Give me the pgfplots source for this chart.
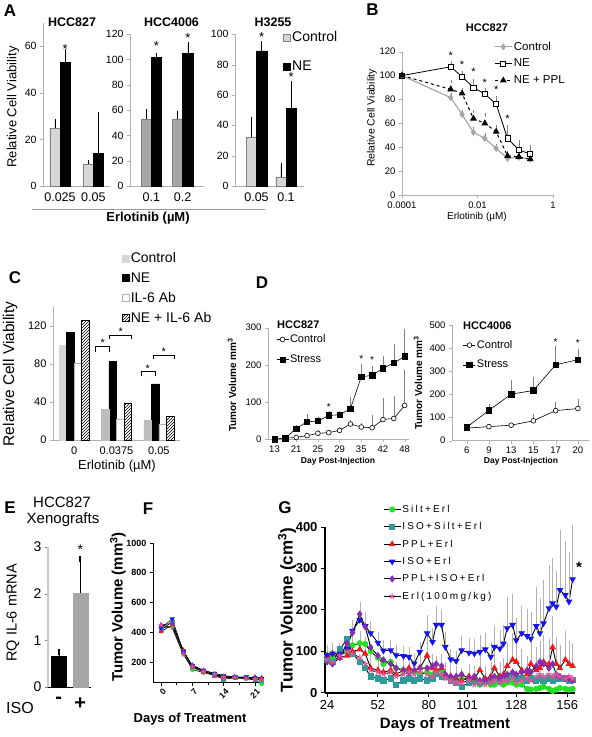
\documentclass[border=0pt]{standalone}
\usepackage{pgfplots}
\pgfplotsset{compat=1.18}
\usepackage{pgfplotstable}
\usepackage{fontspec}
\setmainfont{Liberation Sans}
\newfontfamily\spaced[LetterSpace=22]{Liberation Sans}
\usetikzlibrary{patterns}
\newcommand{\fs}[1]{\fontsize{#1}{#1}\selectfont}
\definecolor{ctrlL}{HTML}{D6D6D6}
\definecolor{ctrlC}{HTML}{BDBDBD}
\definecolor{ctrlM}{HTML}{A6A6A6}
\definecolor{axg}{HTML}{B0B0B0}
\definecolor{cgreen}{HTML}{22E022}
\definecolor{cteal}{HTML}{2E9A9A}
\definecolor{cred}{HTML}{F01818}
\definecolor{cblue}{HTML}{1414F0}
\definecolor{cpurple}{HTML}{8A2BB0}
\definecolor{cpink}{HTML}{F0509A}

\pgfplotstableread{
d   gr  te  re  bl  pu  pk  ebl ere
24  90  80  90  91  75  80  15  20
27  85  75  95  95  70  75  15  20
31  95  105 85  95  85  90  20  25
35  100 130 90  107 120 100 25  30
38  115 95  100 150 145 95  20  40
42  120 75  105 176 190 85  39  40
45  118 60  95  161 160 70  30  35
48  100 40  60  144 110 55  25  30
52  85  35  55  121 90  50  20  30
55  70  30  50  102 80  45  20  30
59  75  35  55  103 70  50  20  25
62  60  20  45  91  60  40  20  25
66  55  30  55  89  55  45  20  25
69  55  35  60  87  50  50  20  30
72  50  30  55  71  55  45  20  25
75  45  35  60  99  60  50  20  30
79  50  30  90  144 60  45  40  40
82  45  35  60  123 65  40  30  30
84  50  45  55  164 70  50  40  30
87  55  40  60  164 65  45  30  30
89  40  40  45  111 45  35  30  25
92  35  30  40  81  40  30  20  25
95  30  25  35  77  40  25  20  25
98  35  15  30  103 45  25  30  25
102 30  25  40  97  35  30  30  25
105 25  30  35  95  40  20  30  25
108 20  25  55  99  30  25  35  40
111 25  30  35  105 30  20  35  25
114 20  30  40  87  35  25  30  30
116 20  35  60  111 40  30  45  40
119 25  30  40  107 35  25  40  30
121 20  35  45  119 40  30  40  35
123 25  35  65  156 45  30  70  50
126 25  40  80  164 50  35  70  60
128 20  35  75  127 45  25  50  50
131 20  35  55  144 50  30  60  45
134 10  30  45  137 55  35  60  40
136 8   35  70  131 50  30  60  60
139 10  30  55  161 65  40  90  50
141 12  35  60  144 75  45  80  60
143 15  30  75  168 70  40  100 60
146 10  35  70  204 60  45  100 55
148 5   30  110 216 70  40  105 70
150 8   35  70  208 45  45  80  60
152 12  35  60  248 40  40  140 50
155 10  35  80  236 35  35  125 65
157 8   30  70  220 35  40  115 50
159 10  32  65  274 30  35  125 50
}\Gdata

\pgfplotstableread{
d    gr  te  re  bl  pu  pk
0    430 420 405 430 450 450
2.5  440 470 450 490 460 430
5    255 270 280 270 265 250
7    150 170 170 175 180 165
9.5  130 140 135 145 145 135
12   110 110 115 125 120 120
14   95  85  100 110 105 100
16.5 95  95  100 100 100 95
19   90  95  95  100 95  90
21   80  85  100 95  90  85
22.5 55  80  95  90  85  80
}\Fdata

\tikzset{stx/.style={font=\fs{13}, inner sep=0pt}}
\pgfplotsset{
  every axis/.append style={scale only axis, anchor=south west, clip=false,
    /pgf/number format/assume math mode=true, /pgf/number format/1000 sep={}},
  xl/.style={axis x line*=bottom, axis y line*=left, tick align=outside,
    axis line style={draw=axg}, tick style={draw=axg}, major tick length=3pt},
  barA/.style={xl, ybar, bar width=10.3pt, xtick style={draw=none},
    yticklabel style={font=\fs{10.5}}, xticklabel style={font=\fs{12.5}}},
  ebar/.style={error bars/.cd, y dir=plus, y explicit,
    error bar style={black, line width=0.4pt}, error mark options={black, mark size=2pt, line width=0.4pt}},
  gbar/.style={error bars/.cd, y dir=plus, y explicit,
    error bar style={gray, line width=0.4pt}, error mark options={gray, mark size=1.8pt, line width=0.4pt}},
  lbar/.style={error bars/.cd, y dir=plus, y explicit,
    error bar style={black!30, line width=0.5pt}, error mark options={black!30, mark size=2pt, line width=0.5pt}},
  sq/.style={legend image code/.code={\draw[##1] (0pt,-3.5pt) rectangle (7pt,3.5pt);}},
  shortl/.style={legend image code/.code={\draw[mark repeat=2,mark phase=2,##1] plot coordinates {(0pt,0pt) (6pt,0pt) (12pt,0pt)};}},
}

\begin{document}
\begin{tikzpicture}
\useasboundingbox (0pt,0pt) rectangle (592pt,737pt);

% ================= A1
\begin{axis}[barA, at={(43pt,551pt)}, width=67pt, height=163pt,
  xmin=-0.51, xmax=1.5, ymin=0, ymax=70, ytick={0,20,40,60}, xtick={0,1}, xticklabels={0.025,0.05}]
\addplot[fill=ctrlL, draw=gray, bar shift=-5.15pt, ebar] coordinates {(0,25) +- (0,3) (1,9.5) +- (0,0.6)};
\addplot[fill=black, draw=black, bar shift=5.15pt, ebar] coordinates {(0,53) +- (0,5) (1,14) +- (0,17)};
\node[stx] at ([xshift=5.15pt]axis cs:0,59) {*};
\end{axis}

% ================= A2
\begin{axis}[barA, at={(130pt,551pt)}, width=74pt, height=151.7pt,
  xmin=-0.68, xmax=1.68, ymin=0, ymax=120, ytick={0,20,...,120}, xtick={0,1}, xticklabels={0.1,0.2}]
\addplot[fill=ctrlM, draw=gray, bar shift=-5.15pt, ebar] coordinates {(0,53) +- (0,6) (1,53) +- (0,5)};
\addplot[fill=black, draw=black, bar shift=5.15pt, ebar] coordinates {(0,102) +- (0,2) (1,105) +- (0,7)};
\node[stx] at ([xshift=5.15pt]axis cs:0,111) {*};
\node[stx] at ([xshift=5.15pt]axis cs:1,117) {*};
\end{axis}

% ================= A3
\begin{axis}[barA, sq, at={(235pt,551pt)}, width=68.7pt, height=151.7pt,
  xmin=-0.73, xmax=1.6, ymin=0, ymax=100, ytick={0,20,...,100}, xtick={0,1}, xticklabels={0.05,0.1},
  legend style={draw=none, fill=none, at={(0.70,1.03)}, anchor=north west, font=\fs{14}, row sep=15pt, inner sep=0pt, nodes={inner sep=1.5pt}},
  legend cell align=left]
\addplot[fill=ctrlL, draw=gray, bar shift=-5.15pt, ebar] coordinates {(0,32) +- (0,12) (1,6) +- (0,8)};
\addplot[fill=black, draw=black, bar shift=5.15pt, ebar] coordinates {(0,89) +- (0,5) (1,51) +- (0,17)};
\node[stx] at ([xshift=5.15pt]axis cs:0,98) {*};
\node[stx] at ([xshift=5.15pt]axis cs:1,72) {*};
\legend{Control,NE}
\end{axis}

% ================= B
\begin{axis}[xl, xmode=log, at={(402pt,542pt)}, width=151pt, height=143.3pt,
  xmin=1e-4, xmax=1, ymin=0, ymax=120, ytick={0,20,...,120},
  xtick={1e-4,1e-2,1}, xticklabels={0.0001,0.01,1}, minor xtick={},
  ticklabel style={font=\fs{9.5}},
  legend style={draw=none, fill=none, at={(0.609,1.08)}, anchor=north west, font=\fs{11.5}, row sep=4.3pt, inner sep=0pt, nodes={inner sep=1.5pt}},
  legend cell align=left]
\addplot[color=ctrlM, line width=1.2pt, mark=diamond*, mark size=2.6pt, mark options={fill=ctrlM, draw=ctrlM}, gbar] coordinates {
 (0.0001,100) +- (0,1) (0.001953,81.5) +- (0,2) (0.003906,67.5) +- (0,2) (0.0078125,52.5) +- (0,3)
 (0.015625,47.4) +- (0,3) (0.03125,39) +- (0,2) (0.0625,30.7) +- (0,2) (0.125,31.5) +- (0,2) (0.25,30) +- (0,2)};
\addplot[black, line width=0.8pt, mark=square*, mark size=2.6pt, mark options={fill=white, draw=black}, gbar] coordinates {
 (0.0001,100) +- (0,2) (0.001953,107.4) +- (0,3.6) (0.003906,99) +- (0,3) (0.0078125,90) +- (0,6)
 (0.015625,84.6) +- (0,3.4) (0.03125,76) +- (0,5) (0.0625,47.4) +- (0,9.6) (0.125,37.7) +- (0,7) (0.25,34.3) +- (0,6.2)};
\addplot[black, dashed, line width=1pt, mark=triangle*, mark size=3pt, mark options={solid, fill=black}, gbar] coordinates {
 (0.0001,100) +- (0,1) (0.001953,88.5) +- (0,6.5) (0.003906,85) +- (0,3) (0.0078125,64) +- (0,6)
 (0.015625,60) +- (0,7) (0.03125,53) +- (0,4) (0.0625,32.7) +- (0,3) (0.125,32) +- (0,2) (0.25,30) +- (0,2)};
\legend{Control,NE,NE + PPL}
\node[stx, font=\fs{11}] at (axis cs:0.001953,117) {*};
\node[stx, font=\fs{11}] at (axis cs:0.003906,109) {*};
\node[stx, font=\fs{11}] at (axis cs:0.0078125,103) {*};
\node[stx, font=\fs{11}] at (axis cs:0.015625,94) {*};
\node[stx, font=\fs{11}] at (axis cs:0.03125,88) {*};
\node[stx, font=\fs{11}] at (axis cs:0.0625,64) {*};
\end{axis}

% ================= C
\begin{axis}[xl, ybar, bar width=7.5pt, at={(53pt,297pt)}, width=127pt, height=133pt,
  xmin=-0.5, xmax=2.5, ymin=0, ymax=140, ytick={0,40,80,120}, xtick={0,1,2}, xticklabels={0,0.0375,0.05},
  xtick style={draw=none}, ticklabel style={font=\fs{11}}, sq,
  legend style={draw=none, fill=none, at={(0.543,1.42)}, anchor=north west, font=\fs{14}, row sep=6pt, inner sep=0pt, nodes={inner sep=1.2pt}},
  legend cell align=left]
\addplot[fill=ctrlL, draw=ctrlL, bar shift=-11.25pt] coordinates {(0,100)};
\addplot[fill=black, draw=black, bar shift=-3.75pt] coordinates {(0,113) (1,83) (2,59)};
\addplot[fill=white, draw=gray!60, bar shift=3.75pt] coordinates {(0,81) (1,22) (2,17)};
\addplot[pattern=north east lines, draw=black, bar shift=11.25pt] coordinates {(0,126) (1,39) (2,25)};
\addplot[fill=ctrlC, draw=ctrlC, bar shift=-11.25pt, forget plot] coordinates {(1,32) (2,21)};
\legend{Control,NE,IL-6 Ab,NE + IL-6 Ab}
\draw[line width=0.5pt] ([xshift=-20.8pt]axis cs:1,93) -- ([xshift=-20.8pt]axis cs:1,99) -- ([xshift=-6.8pt]axis cs:1,99) -- ([xshift=-6.8pt]axis cs:1,93);
\draw[line width=0.5pt] ([xshift=-6.8pt]axis cs:1,106) -- ([xshift=-6.8pt]axis cs:1,110.5) -- ([xshift=15.2pt]axis cs:1,110.5) -- ([xshift=15.2pt]axis cs:1,106);
\draw[line width=0.5pt] ([xshift=-18pt]axis cs:2,67) -- ([xshift=-18pt]axis cs:2,72) -- ([xshift=-4pt]axis cs:2,72) -- ([xshift=-4pt]axis cs:2,67);
\draw[line width=0.5pt] ([xshift=-5.3pt]axis cs:2,85) -- ([xshift=-5.3pt]axis cs:2,89.5) -- ([xshift=15.3pt]axis cs:2,89.5) -- ([xshift=15.3pt]axis cs:2,85);
\node[stx, font=\fs{11}] at ([xshift=-13.8pt]axis cs:1,102) {*};
\node[stx, font=\fs{11}] at ([xshift=4.2pt]axis cs:1,113.5) {*};
\node[stx, font=\fs{11}] at ([xshift=-11pt]axis cs:2,75) {*};
\node[stx, font=\fs{11}] at ([xshift=5pt]axis cs:2,92.5) {*};
\end{axis}

% ================= D left
\begin{axis}[xl, shortl, at={(268pt,297.7pt)}, width=141pt, height=111.6pt,
  xmin=-0.6, xmax=12.4, ymin=0, ymax=300, ytick={0,100,200,300},
  xtick={0,2,...,12}, xticklabels={13,21,25,29,35,42,48},
  ticklabel style={font=\fs{9.5}},
  legend style={draw=none, fill=none, at={(0.057,0.95)}, anchor=north west, font=\fs{11}, row sep=8.5pt, inner sep=0pt, nodes={inner sep=1.2pt}},
  legend cell align=left]
\addplot[black, line width=0.6pt, mark=*, mark size=2.4pt, mark options={fill=white}, gbar] coordinates {
 (0,0) +- (0,0) (1,3) +- (0,0) (2,5) +- (0,1) (3,10) +- (0,2) (4,16) +- (0,3) (5,18) +- (0,3) (6,24) +- (0,4)
 (7,41) +- (0,6) (8,33) +- (0,6) (9,31) +- (0,29) (10,53) +- (0,53) (11,56) +- (0,55) (12,91) +- (0,90)};
\addplot[black, line width=0.6pt, mark=square*, mark size=2.7pt, gbar] coordinates {
 (0,0) +- (0,0) (1,3) +- (0,0) (2,29) +- (0,4) (3,47) +- (0,16) (4,49) +- (0,6) (5,64) +- (0,8) (6,66) +- (0,5)
 (7,82) +- (0,26) (8,168) +- (0,29) (9,172) +- (0,20) (10,191) +- (0,29) (11,205) +- (0,46) (12,223) +- (0,69)};
\legend{Control,Stress}
\node[stx, font=\fs{10}] at (axis cs:5,86) {*};
\node[stx, font=\fs{10}] at (axis cs:8,216) {*};
\node[stx, font=\fs{10}] at (axis cs:9,214) {*};
\end{axis}

% ================= D right
\begin{axis}[xl, shortl, at={(452pt,296.3pt)}, width=137pt, height=115.7pt,
  xmin=-0.66, xmax=5.5, ymin=0, ymax=500, ytick={0,100,...,500},
  xtick={0,...,5}, xticklabels={6,9,13,15,17,20},
  ticklabel style={font=\fs{9.5}},
  legend style={draw=none, fill=none, at={(0.08,0.879)}, anchor=north west, font=\fs{11}, row sep=8pt, inner sep=0pt, nodes={inner sep=1.2pt}},
  legend cell align=left]
\addplot[black, line width=0.6pt, mark=*, mark size=2.4pt, mark options={fill=white}, gbar] coordinates {
 (0,54) +- (0,0) (1,61) +- (0,3) (2,67) +- (0,3) (3,86) +- (0,23) (4,130) +- (0,30) (5,139) +- (0,35)};
\addplot[black, line width=0.6pt, mark=square*, mark size=2.7pt, gbar] coordinates {
 (0,58) +- (0,3) (1,131) +- (0,21) (2,201) +- (0,54) (3,217) +- (0,51) (4,328) +- (0,72) (5,350) +- (0,40)};
\legend{Control,Stress}
\node[stx, font=\fs{10}] at (axis cs:4,428) {*};
\node[stx, font=\fs{10}] at (axis cs:5,421) {*};
\end{axis}

% ================= E
\begin{axis}[at={(48pt,50pt)}, width=43pt, height=140pt,
  axis x line*=bottom, axis y line*=left, tick align=outside, major tick length=3pt,
  y axis line style={draw=gray!40, line width=1.2pt}, x axis line style={black}, tick style={gray},
  xmin=-0.5, xmax=1.5, ymin=0, ymax=3, ytick={0,1,2,3}, xtick={0,1}, xticklabels={-,+},
  xtick style={draw=none}, yticklabel style={font=\fs{14}},
  xticklabel style={font=\bfseries\fs{20}, yshift=-4pt}, ybar, bar width=15pt]
\addplot[fill=black, draw=black, bar shift=0pt, error bars/.cd, y dir=plus, y explicit,
  error bar style={black, line width=0.5pt}, error mark options={black, mark size=3pt, line width=1.6pt}] coordinates {(0,0.65) +- (0,0.1)};
\addplot[fill=ctrlM, draw=ctrlM, bar shift=0pt, error bars/.cd, y dir=plus, y explicit,
  error bar style={black, line width=0.5pt}, error mark options={black, mark size=3pt, line width=1.6pt}] coordinates {(1,2.02) +- (0,0.72)};
\node[stx, font=\fs{14}] at (axis cs:1,2.95) {*};
\end{axis}

% ================= F
\begin{axis}[at={(153pt,54pt)}, width=110pt, height=140pt,
  axis x line*=bottom, axis y line*=left, tick align=outside, major tick length=3pt, minor tick length=2pt,
  axis line style={line width=1pt}, tick style={black, line width=0.8pt},
  xmin=-1.8, xmax=22.8, ymin=60, ymax=1000, ytick={200,400,...,1000}, xtick={0,7,14,21}, minor x tick num=1,
  ticklabel style={font=\bfseries\fs{9}}, xticklabel style={rotate=45, anchor=north east, inner sep=0.5pt, font=\bfseries\fs{8.5}, yshift=-2pt}]
\addplot[black, line width=0.6pt, mark=*, mark size=2pt, mark options={fill=cgreen, draw=cgreen}] table[x=d, y=gr] {\Fdata};
\addplot[black, line width=0.6pt, mark=square*, mark size=2pt, mark options={fill=cteal, draw=cteal}] table[x=d, y=te] {\Fdata};
\addplot[black, line width=0.6pt, mark=triangle*, mark size=2.4pt, mark options={fill=cred, draw=cred}] table[x=d, y=re] {\Fdata};
\addplot[black, line width=0.6pt, mark=triangle*, mark size=2.4pt, mark options={fill=cblue, draw=cblue, rotate=180}] table[x=d, y=bl] {\Fdata};
\addplot[black, line width=0.6pt, mark=diamond*, mark size=2.4pt, mark options={fill=cpurple, draw=cpurple}] table[x=d, y=pu] {\Fdata};
\addplot[black, line width=0.6pt, mark=star, mark size=2.4pt, mark options={draw=cpink, line width=0.8pt}] table[x=d, y=pk] {\Fdata};
\end{axis}

% ================= G
\begin{axis}[at={(325pt,44pt)}, width=250pt, height=166pt,
  axis x line*=bottom, axis y line*=left, tick align=outside, major tick length=4pt,
  axis line style={line width=1.2pt}, tick style={black, line width=1pt},
  xmin=22.9, xmax=160.3, ymin=0, ymax=400, ytick={0,100,...,400}, xtick={24,52,80,101,128,156},
  yticklabel style={font=\bfseries\fs{13}}, xticklabel style={font=\fs{13}},
  legend style={draw=none, fill=none, at={(0.232,1.14)}, anchor=north west, font=\spaced\fs{10}, row sep=6.2pt, inner sep=0pt, nodes={inner sep=1.2pt}},
  legend cell align=left]
\addplot[black, line width=0.9pt, mark=*, mark size=2.6pt, mark options={fill=cgreen, draw=cgreen}] table[x=d, y=gr] {\Gdata};
\addplot[black, line width=0.9pt, mark=square*, mark size=2.6pt, mark options={fill=cteal, draw=cteal}] table[x=d, y=te] {\Gdata};
\addplot[black, line width=0.9pt, mark=triangle*, mark size=3pt, mark options={fill=cred, draw=cred}, lbar] table[x=d, y=re, y error plus=ere] {\Gdata};
\addplot[black, line width=0.9pt, mark=triangle*, mark size=3pt, mark options={fill=cblue, draw=cblue, rotate=180}, lbar] table[x=d, y=bl, y error plus=ebl] {\Gdata};
\addplot[black, line width=0.9pt, mark=diamond*, mark size=3pt, mark options={fill=cpurple, draw=cpurple}] table[x=d, y=pu] {\Gdata};
\addplot[black, line width=0.9pt, mark=star, mark size=3pt, mark options={draw=cpink, line width=1pt}] table[x=d, y=pk] {\Gdata};
\legend{Silt+Erl,ISO+Silt+Erl,PPL+Erl,ISO+Erl,PPL+ISO+Erl,Erl(100mg/kg)}
\node[stx, font=\bfseries\fs{15}] at (axis cs:162.5,303) {*};
\end{axis}

% ================= text
\begin{scope}[every node/.style={inner sep=0pt}]
\node[font=\bfseries\fs{17}] at (10pt,726pt) {A};
\node[font=\bfseries\fs{17}] at (372.5pt,727pt) {B};
\node[font=\bfseries\fs{17}] at (15pt,459pt) {C};
\node[font=\bfseries\fs{17}] at (262pt,454pt) {D};
\node[font=\bfseries\fs{17}] at (10pt,229pt) {E};
\node[font=\bfseries\fs{17}] at (148pt,228pt) {F};
\node[font=\bfseries\fs{17}] at (285pt,229pt) {G};

\node[font=\bfseries\fs{12.5}] at (72pt,715pt) {HCC827};
\node[font=\bfseries\fs{12.5}] at (171.5pt,715pt) {HCC4006};
\node[font=\bfseries\fs{12.5}] at (273pt,715pt) {H3255};
\node[font=\bfseries\fs{11}] at (487pt,709pt) {HCC827};
\node[font=\bfseries\fs{11}, anchor=west] at (277pt,412pt) {HCC827};
\node[font=\bfseries\fs{11}, anchor=west] at (463pt,411pt) {HCC4006};
\node[font=\fs{15}] at (62pt,235pt) {HCC827};
\node[font=\fs{15}] at (63pt,217pt) {Xenografts};

\node[font=\fs{13}, rotate=90] at (13pt,630pt) {Relative Cell Viability};
\node[font=\fs{10.5}, rotate=90] at (372pt,619pt) {Relative Cell Viability};
\node[font=\fs{15.5}, rotate=90] at (10pt,363pt) {Relative Cell Viability};
\node[font=\bfseries\fs{10}, rotate=90] at (232pt,352pt) {Tumor Volume mm\textsuperscript{3}};
\node[font=\bfseries\fs{10}, rotate=90] at (418pt,354pt) {Tumor Volume mm\textsuperscript{3}};
\node[font=\fs{14.5}, rotate=90] at (13pt,124pt) {RQ IL-6 mRNA};
\node[font=\bfseries\fs{15}, rotate=90] at (118pt,130pt) {Tumor Volume (mm\textsuperscript{3})};
\node[font=\bfseries\fs{17}, rotate=90] at (287pt,127pt) {Tumor Volume (cm\textsuperscript{3})};

\node[font=\bfseries\fs{13}] at (148pt,519pt) {Erlotinib (µM)};
\draw[gray!80, line width=0.8pt] (32pt,528pt) -- (265pt,528pt);
\node[font=\fs{10}] at (477pt,520pt) {Erlotinib (µM)};
\node[font=\fs{13}] at (117pt,271pt) {Erlotinib (µM)};
\node[font=\bfseries\fs{8.5}] at (338pt,276pt) {Day Post-Injection};
\node[font=\bfseries\fs{8.5}] at (521pt,276pt) {Day Post-Injection};
\node[font=\fs{16}] at (20pt,29pt) {ISO};
\node[font=\bfseries\fs{13}] at (190pt,18pt) {Days of Treatment};
\node[font=\bfseries\fs{15}] at (445pt,12pt) {Days of Treatment};
\end{scope}
\end{tikzpicture}
\end{document}
